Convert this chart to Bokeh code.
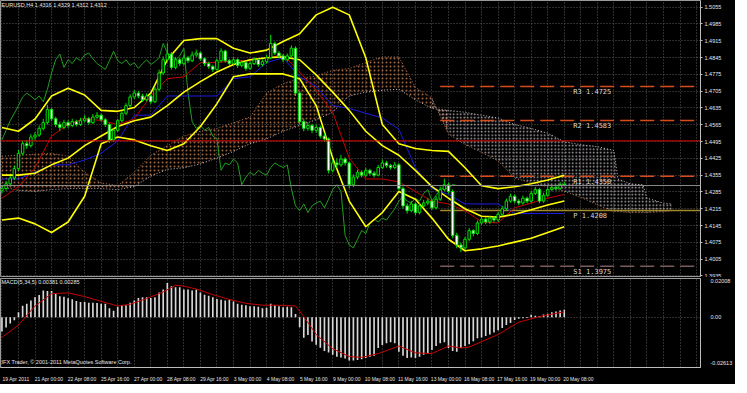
from bokeh.plotting import figure
from bokeh.layouts import column
from bokeh.models import Range1d, FixedTicker, NumeralTickFormatter, Label, Span
from bokeh.core.properties import value
from bokeh.embed import file_html
from bokeh.resources import INLINE

# ---------------- data ----------------
first_open = 1.4290
close = [1.4299, 1.4319, 1.4343, 1.4382, 1.4446, 1.4486, 1.4478, 1.4514, 1.4522, 1.4550,
         1.4574, 1.4629, 1.4590, 1.4566, 1.4554, 1.4574, 1.4562, 1.4578, 1.4566, 1.4582,
         1.4590, 1.4574, 1.4597, 1.4605, 1.4586, 1.4566, 1.4502, 1.4542, 1.4582, 1.4613,
         1.4645, 1.4681, 1.4697, 1.4685, 1.4669, 1.4685, 1.4661, 1.4713, 1.4781, 1.4836,
         1.4860, 1.4804, 1.4836, 1.4820, 1.4844, 1.4832, 1.4856, 1.4864, 1.4840, 1.4820,
         1.4808, 1.4796, 1.4832, 1.4872, 1.4832, 1.4820, 1.4836, 1.4812, 1.4824, 1.4800,
         1.4820, 1.4836, 1.4816, 1.4828, 1.4844, 1.4904, 1.4864, 1.4852, 1.4836, 1.4852,
         1.4884, 1.4697, 1.4578, 1.4550, 1.4562, 1.4542, 1.4554, 1.4518, 1.4506, 1.4375,
         1.4406, 1.4398, 1.4422, 1.4406, 1.4315, 1.4347, 1.4367, 1.4355, 1.4375, 1.4363,
         1.4355, 1.4387, 1.4406, 1.4395, 1.4387, 1.4398, 1.4299, 1.4227, 1.4207, 1.4235,
         1.4199, 1.4227, 1.4239, 1.4247, 1.4219, 1.4255, 1.4295, 1.4315, 1.4287, 1.4104,
         1.4064, 1.4052, 1.4088, 1.4124, 1.4112, 1.4156, 1.4172, 1.4160, 1.4176, 1.4168,
         1.4192, 1.4215, 1.4247, 1.4267, 1.4247, 1.4239, 1.4259, 1.4247, 1.4279, 1.4295,
         1.4247, 1.4271, 1.4295, 1.4303, 1.4299, 1.4316, 1.4312]
high = [1.4312, 1.4330, 1.4352, 1.4395, 1.4460, 1.4498, 1.4502, 1.4526, 1.4535, 1.4562,
        1.4590, 1.4648, 1.4635, 1.4598, 1.4578, 1.4586, 1.4584, 1.4590, 1.4586, 1.4594,
        1.4605, 1.4598, 1.4610, 1.4618, 1.4612, 1.4594, 1.4572, 1.4550, 1.4590, 1.4622,
        1.4655, 1.4692, 1.4710, 1.4706, 1.4694, 1.4696, 1.4692, 1.4722, 1.4795, 1.4850,
        1.4905, 1.4868, 1.4848, 1.4845, 1.4856, 1.4852, 1.4870, 1.4878, 1.4870, 1.4846,
        1.4828, 1.4815, 1.4842, 1.4884, 1.4878, 1.4840, 1.4846, 1.4842, 1.4834, 1.4830,
        1.4830, 1.4846, 1.4842, 1.4838, 1.4856, 1.4940, 1.4912, 1.4872, 1.4860, 1.4862,
        1.4896, 1.4892, 1.4705, 1.4590, 1.4575, 1.4570, 1.4566, 1.4562, 1.4530, 1.4512,
        1.4418, 1.4425, 1.4440, 1.4430, 1.4412, 1.4358, 1.4378, 1.4375, 1.4386, 1.4382,
        1.4372, 1.4398, 1.4420, 1.4415, 1.4402, 1.4410, 1.4405, 1.4308, 1.4238, 1.4248,
        1.4242, 1.4238, 1.4252, 1.4260, 1.4255, 1.4268, 1.4308, 1.4340, 1.4325, 1.4295,
        1.4115, 1.4075, 1.4098, 1.4135, 1.4130, 1.4166, 1.4182, 1.4180, 1.4186, 1.4184,
        1.4202, 1.4226, 1.4258, 1.4278, 1.4275, 1.4255, 1.4270, 1.4266, 1.4290, 1.4306,
        1.4302, 1.4282, 1.4306, 1.4314, 1.4312, 1.4326, 1.4329]
low = [1.4278, 1.4290, 1.4310, 1.4335, 1.4375, 1.4438, 1.4465, 1.4470, 1.4500, 1.4515,
       1.4542, 1.4566, 1.4580, 1.4555, 1.4540, 1.4546, 1.4552, 1.4555, 1.4558, 1.4560,
       1.4575, 1.4565, 1.4568, 1.4590, 1.4578, 1.4556, 1.4490, 1.4495, 1.4535, 1.4575,
       1.4605, 1.4638, 1.4672, 1.4676, 1.4660, 1.4662, 1.4652, 1.4655, 1.4705, 1.4772,
       1.4826, 1.4795, 1.4796, 1.4810, 1.4812, 1.4822, 1.4826, 1.4848, 1.4832, 1.4810,
       1.4798, 1.4785, 1.4790, 1.4825, 1.4824, 1.4810, 1.4812, 1.4802, 1.4804, 1.4790,
       1.4794, 1.4814, 1.4806, 1.4808, 1.4820, 1.4838, 1.4856, 1.4842, 1.4826, 1.4828,
       1.4845, 1.4685, 1.4565, 1.4538, 1.4540, 1.4530, 1.4532, 1.4508, 1.4495, 1.4362,
       1.4366, 1.4385, 1.4390, 1.4395, 1.4300, 1.4305, 1.4338, 1.4345, 1.4348, 1.4354,
       1.4345, 1.4350, 1.4380, 1.4386, 1.4378, 1.4380, 1.4290, 1.4215, 1.4195, 1.4200,
       1.4188, 1.4192, 1.4220, 1.4230, 1.4210, 1.4212, 1.4248, 1.4288, 1.4278, 1.4092,
       1.4050, 1.4035, 1.4045, 1.4080, 1.4100, 1.4105, 1.4148, 1.4150, 1.4152, 1.4158,
       1.4160, 1.4185, 1.4208, 1.4240, 1.4238, 1.4230, 1.4232, 1.4238, 1.4240, 1.4272,
       1.4238, 1.4240, 1.4265, 1.4288, 1.4290, 1.4294, 1.4312]

# indicator lines sampled every 4 bars
line_x = [0, 4, 8, 12, 16, 20, 24, 28, 32, 36, 40, 44, 48, 52, 56, 60, 64, 68, 72, 76,
          80, 84, 88, 92, 96, 100, 104, 108, 112, 116, 120, 124, 128, 132, 136]
bb_upper = [1.4554, 1.4538, 1.4589, 1.4685, 1.4717, 1.4689, 1.4625, 1.4621, 1.4637, 1.4697,
            1.4836, 1.4916, 1.4924, 1.4924, 1.4884, 1.4864, 1.4876, 1.4912, 1.4944, 1.5023,
            1.5055, 1.5023, 1.4844, 1.4566, 1.4486, 1.4466, 1.4458, 1.4454, 1.4386, 1.4311,
            1.4299, 1.4307, 1.4319, 1.4335, 1.4355]
bb_mid = [1.4355, 1.4355, 1.4363, 1.4398, 1.4426, 1.4478, 1.4518, 1.4558, 1.4582, 1.4597,
          1.4645, 1.4701, 1.4745, 1.4785, 1.4816, 1.4836, 1.4844, 1.4848, 1.4836, 1.4773,
          1.4701, 1.4625, 1.4538, 1.4478, 1.4438, 1.4375, 1.4307, 1.4259, 1.4215, 1.4184,
          1.4180, 1.4192, 1.4211, 1.4231, 1.4247]
bb_lower = [1.4168, 1.4176, 1.4152, 1.4116, 1.4160, 1.4267, 1.4486, 1.4514, 1.4502, 1.4478,
            1.4458, 1.4486, 1.4558, 1.4653, 1.4765, 1.4777, 1.4777, 1.4777, 1.4757, 1.4645,
            1.4426, 1.4247, 1.4140, 1.4199, 1.4287, 1.4255, 1.4176, 1.4088, 1.4040, 1.4048,
            1.4060, 1.4076, 1.4092, 1.4116, 1.4140]
tenkan = [1.4259, 1.4307, 1.4386, 1.4518, 1.4566, 1.4593, 1.4582, 1.4566, 1.4589, 1.4685,
          1.4757, 1.4765, 1.4824, 1.4824, 1.4832, 1.4832, 1.4844, 1.4856, 1.4785, 1.4709,
          1.4617, 1.4426, 1.4339, 1.4339, 1.4327, 1.4287, 1.4247, 1.4235, 1.4207, 1.4160,
          1.4156, 1.4219, 1.4239, 1.4259, 1.4275]
kijun = [1.4339, 1.4339, 1.4367, 1.4398, 1.4398, 1.4418, 1.4446, 1.4498, 1.4605, 1.4605,
         1.4685, 1.4685, 1.4685, 1.4685, 1.4757, 1.4765, 1.4824, 1.4844, 1.4765, 1.4725,
         1.4645, 1.4633, 1.4613, 1.4593, 1.4546, 1.4386, 1.4299, 1.4275, 1.4235, 1.4235,
         1.4235, 1.4195, 1.4195, 1.4195, 1.4195]

cloud_x = [0, 4, 8, 12, 16, 20, 24, 28, 32, 36, 40, 44, 48, 52, 56, 60, 64, 68, 72, 76,
           80, 84, 88, 92, 96, 100, 104, 108, 112, 116, 120, 124, 128, 132, 136, 140, 144, 148,
           149, 152, 155, 156, 160, 162]
span_a = [1.4434, 1.4438, 1.4442, 1.4446, 1.4434, 1.4367, 1.4323, 1.4311, 1.4367, 1.4438,
          1.4478, 1.4518, 1.4538, 1.4550, 1.4574, 1.4597, 1.4697, 1.4737, 1.4757, 1.4769,
          1.4792, 1.4800, 1.4824, 1.4848, 1.4848, 1.4721, 1.4677, 1.4526, 1.4482, 1.4450,
          1.4414, 1.4343, 1.4323, 1.4307, 1.4287, 1.4263, 1.4231, 1.4203,
          1.4203, 1.4199, 1.4199, 1.4199, 1.4203, 1.4207]
span_b = [1.4307, 1.4291, 1.4287, 1.4295, 1.4299, 1.4299, 1.4299, 1.4295, 1.4307, 1.4351,
          1.4379, 1.4386, 1.4402, 1.4426, 1.4454, 1.4486, 1.4506, 1.4538, 1.4562, 1.4586,
          1.4617, 1.4685, 1.4701, 1.4709, 1.4713, 1.4669, 1.4633, 1.4625, 1.4617, 1.4605,
          1.4593, 1.4566, 1.4550, 1.4530, 1.4494, 1.4482, 1.4474, 1.4458,
          1.4339, 1.4319, 1.4315, 1.4259, 1.4239, 1.4235]
chikou_shift = 26

macd_hist = [-0.0074, -0.0054, -0.0033, -0.0016, 0.0025, 0.0059, 0.0070, 0.0087, 0.0103, 0.0115,
             0.0139, 0.0136, 0.0136, 0.0120, 0.0108, 0.0106, 0.0098, 0.0093, 0.0084, 0.0079,
             0.0079, 0.0075, 0.0075, 0.0074, 0.0070, 0.0070, 0.0046, 0.0034, 0.0054, 0.0062,
             0.0062, 0.0075, 0.0087, 0.0100, 0.0103, 0.0103, 0.0100, 0.0103, 0.0128, 0.0144,
             0.0177, 0.0161, 0.0156, 0.0156, 0.0144, 0.0144, 0.0139, 0.0144, 0.0128, 0.0116,
             0.0111, 0.0103, 0.0095, 0.0090, 0.0087, 0.0090, 0.0082, 0.0070, 0.0065, 0.0062,
             0.0057, 0.0057, 0.0054, 0.0046, 0.0049, 0.0070, 0.0062, 0.0057, 0.0051, 0.0054,
             0.0051, 0.0016, -0.0052, -0.0107, -0.0093, -0.0126, -0.0143, -0.0159, -0.0176, -0.0184,
             -0.0195, -0.0205, -0.0210, -0.0215, -0.0225, -0.0225, -0.0222, -0.0218, -0.0212, -0.0205,
             -0.0200, -0.0160, -0.0145, -0.0135, -0.0130, -0.0135, -0.0180, -0.0200, -0.0212, -0.0210,
             -0.0212, -0.0205, -0.0195, -0.0188, -0.0170, -0.0150, -0.0135, -0.0130, -0.0160, -0.0175,
             -0.0180, -0.0160, -0.0150, -0.0140, -0.0125, -0.0110, -0.0105, -0.0098, -0.0090, -0.0080,
             -0.0068, -0.0056, -0.0040, -0.0030, -0.0015, -0.0008, -0.0006, -0.0004, 0.0012, 0.0008,
             0.0006, 0.0014, 0.0018, 0.0025, 0.0030, 0.0035, 0.0038]
signal_x = [0, 4, 8, 12, 16, 20, 24, 28, 31, 35, 39, 42, 44, 47, 51, 55, 59, 63, 67, 71,
            73, 76, 80, 84, 87, 91, 96, 100, 104, 108, 111, 113, 120, 125, 130, 136]
signal = [-0.0105, -0.0041, 0.0058, 0.0122, 0.0126, 0.0107, 0.0082, 0.0058, 0.0067, 0.0097,
          0.0131, 0.0166, 0.0161, 0.0146, 0.0117, 0.0092, 0.0072, 0.0062, 0.0062, 0.0058,
          0.0003, -0.0090, -0.0164, -0.0204, -0.0209, -0.0189, -0.0150, -0.0185, -0.0189, -0.0150,
          -0.0160, -0.0155, -0.0090, -0.0026, 0.0003, 0.0028]

price_ticks = [1.5055, 1.4985, 1.4915, 1.4845, 1.4775, 1.4705, 1.4635, 1.4565, 1.4495,
               1.4425, 1.4355, 1.4285, 1.4215, 1.4145, 1.4075, 1.4005, 1.3935]
time_labels = ["19 Apr 2011", "21 Apr 00:00", "22 Apr 08:00", "25 Apr 16:00", "27 Apr 00:00",
               "28 Apr 08:00", "29 Apr 16:00", "3 May 00:00", "4 May 08:00", "5 May 16:00",
               "9 May 00:00", "10 May 08:00", "11 May 16:00", "13 May 00:00", "16 May 08:00",
               "17 May 16:00", "19 May 00:00", "20 May 08:00"]
bars_per_label = 8

pivot_names = ["R3", "R2", "R1", "P", "S1"]
pivot_levels = [1.4725, 1.4583, 1.4350, 1.4208, 1.3975]
pivot_start = 106
red_level = 1.4498
last_price = 1.4312
title_text = "EURUSD,H4  1.4316 1.4329 1.4312 1.4312"
macd_text = "MACD(5,34,5) 0.00381 0.00285"
copyright_text = "IFX Trader, \u00a9 2001-2011 MetaQuotes Software Corp."
macd_top, macd_bottom = 0.02008, -0.02613

# ---------------- styling ----------------
BG = "black"
GRID = "#5a5a5a"
AX = "#bdbdbd"
FW = 700
XR = Range1d(-0.35, 168.95)
SANS = "Liberation Sans"

bars = list(range(len(close)))
opens = [first_open] + close[:-1]
bull = [i for i in bars if close[i] >= opens[i]]
bear = [i for i in bars if close[i] < opens[i]]

p = figure(frame_width=FW, frame_height=276, x_range=XR, y_range=Range1d(1.39327, 1.50829),
           x_axis_location=None, y_axis_location="right", output_backend="svg",
           toolbar_location=None, background_fill_color=BG, border_fill_color=BG,
           min_border_left=0, min_border_right=31, min_border_top=0, min_border_bottom=1)
p.outline_line_color = "#9a9a9a"
ax = p.yaxis[0]
ax.ticker = FixedTicker(ticks=price_ticks)
ax.formatter = NumeralTickFormatter(format="0.0000")
ax.axis_line_color = AX
ax.major_tick_line_color = AX
ax.major_tick_out = 2
ax.major_tick_in = 0
ax.minor_tick_line_color = None
ax.major_label_standoff = 2
ax.major_label_text_font = SANS
ax.major_label_text_font_size = "5.5px"
ax.major_label_text_color = "#e6e6e6"
p.ygrid.grid_line_color = GRID
p.ygrid.grid_line_dash = "1 2"
p.xgrid.ticker = FixedTicker(ticks=list(range(0, 169, 4)))
p.xgrid.grid_line_color = GRID
p.xgrid.grid_line_dash = "1 2"

# Ichimoku cloud
split = next(k for k in range(len(cloud_x)) if span_a[k] < span_b[k])
p.varea(x=cloud_x[:split + 1], y1=span_a[:split + 1], y2=span_b[:split + 1], fill_color=None,
        hatch_pattern="dot", hatch_color="#9c6240", hatch_scale=4, hatch_weight=0.9)
p.varea(x=cloud_x[split - 1:], y1=span_a[split - 1:], y2=span_b[split - 1:], fill_color=None,
        hatch_pattern="dot", hatch_color="#b4aeb4", hatch_scale=3.5, hatch_weight=0.9)
p.line(cloud_x, span_a, line_color="#b07048", line_dash="1 2", line_width=1)
p.line(cloud_x, span_b, line_color="#c8bcc8", line_dash="1 2", line_width=1)

p.add_layout(Span(location=red_level, dimension="width", line_color="#e00000", line_width=1))
p.add_layout(Span(location=last_price, dimension="width", line_color="#8a8a8a", line_width=1))

# pivots
for name, lvl in zip(pivot_names, pivot_levels):
    if name == "P":
        p.line([pivot_start, 169], [lvl, lvl], line_color="#a08a28", line_width=1.5)
    elif name.startswith("S"):
        p.line([pivot_start, 169], [lvl, lvl], line_color="#7a5c5c", line_width=1.5, line_dash="14 6")
    else:
        p.line([pivot_start, 169], [lvl, lvl], line_color="#d84c1c", line_width=1.5, line_dash="14 6")

# Ichimoku lines
p.line([i - chikou_shift for i in bars[chikou_shift:]], close[chikou_shift:],
       line_color="#1f9f1f", line_width=1)
p.line(line_x, kijun, line_color="#1c1ce0", line_width=1)
p.line(line_x, tenkan, line_color="#c80000", line_width=1)

# Bollinger
for band in (bb_upper, bb_mid, bb_lower):
    p.line(line_x, band, line_color="#ffff00", line_width=1.6)

# candles
p.segment(x0=bars, x1=bars, y0=low, y1=high, line_color="#00e000", line_width=1)
p.vbar(x=bull, width=0.6, top=[close[i] for i in bull], bottom=[opens[i] for i in bull],
       fill_color="black", line_color="#00e000", line_width=1)
p.vbar(x=bear, width=0.6, top=[opens[i] for i in bear], bottom=[close[i] for i in bear],
       fill_color="white", line_color="#00e000", line_width=1)

p.text(x=[138.2] * len(pivot_levels), y=pivot_levels,
       text=[f"{n} {v:.4f}" for n, v in zip(pivot_names, pivot_levels)],
       text_font=value("DejaVu Sans Mono"), text_font_size="7px", text_color="#d8d8d8",
       text_baseline="top", y_offset=2)

p.add_layout(Label(x=-0.1, y=1.5077, text=title_text, text_font=SANS, text_font_size="5.5px",
                   text_color="#e6e6e6", text_baseline="top"))
p.add_layout(Label(x=168.95, y=red_level, text=f"{red_level:.4f}", text_font=SANS,
                   text_font_size="5.5px", text_color="#400000", text_baseline="middle",
                   background_fill_color="#ff1010", x_offset=1))
p.add_layout(Label(x=168.95, y=last_price, text=f"{last_price:.4f}", text_font=SANS,
                   text_font_size="5.5px", text_color="black", text_baseline="middle",
                   background_fill_color="white", x_offset=1))

# ---------------- MACD panel ----------------
m = figure(frame_width=FW, frame_height=89, x_range=XR, y_range=Range1d(macd_bottom, macd_top),
           x_axis_location="below", y_axis_location="right", output_backend="svg",
           toolbar_location=None, background_fill_color=BG, border_fill_color=BG,
           min_border_left=0, min_border_right=31, min_border_top=1, min_border_bottom=0)
m.outline_line_color = "#9a9a9a"
my = m.yaxis[0]
macd_ticks = [0.0186, 0.0, -0.0237]
my.ticker = FixedTicker(ticks=macd_ticks)
my.major_label_overrides = {macd_ticks[0]: f"{macd_top:.5f}", macd_ticks[1]: "0.00",
                            macd_ticks[2]: f"{macd_bottom:.5f}"}
my.axis_line_color = AX
my.major_tick_line_color = None
my.minor_tick_line_color = None
my.major_label_standoff = 4
my.major_label_text_font = SANS
my.major_label_text_font_size = "5.5px"
my.major_label_text_color = "#e6e6e6"
mx = m.xaxis[0]
tick_pos = [k * bars_per_label + 3.4 for k in range(len(time_labels))]
mx.ticker = FixedTicker(ticks=tick_pos)
mx.major_label_overrides = {t: s for t, s in zip(tick_pos, time_labels)}
mx.axis_line_color = AX
mx.major_tick_line_color = None
mx.minor_tick_line_color = None
mx.major_label_standoff = 2
mx.major_label_text_font = SANS
mx.major_label_text_font_size = "5px"
mx.major_label_text_color = "#e6e6e6"
m.ygrid.ticker = FixedTicker(ticks=[0.0])
m.ygrid.grid_line_color = GRID
m.ygrid.grid_line_dash = "1 2"
m.xgrid.ticker = FixedTicker(ticks=list(range(0, 169, 4)))
m.xgrid.grid_line_color = GRID
m.xgrid.grid_line_dash = "1 2"

m.vbar(x=bars, top=macd_hist, bottom=0, width=0.4, fill_color="#d8d8d8", line_color=None)
m.line(signal_x, signal, line_color="#c80000", line_width=1)
m.add_layout(Label(x=-0.1, y=0.0196, text=macd_text, text_font=SANS, text_font_size="5.5px",
                   text_color="#e6e6e6", text_baseline="top"))
m.add_layout(Label(x=-0.1, y=-0.0248, text=copyright_text, text_font=SANS, text_font_size="5.5px",
                   text_color="#e6e6e6", text_baseline="bottom"))

layout = column(p, m, spacing=0)
layout.styles = {"background-color": "black"}
open("out.html", "w").write(file_html(layout, INLINE))
